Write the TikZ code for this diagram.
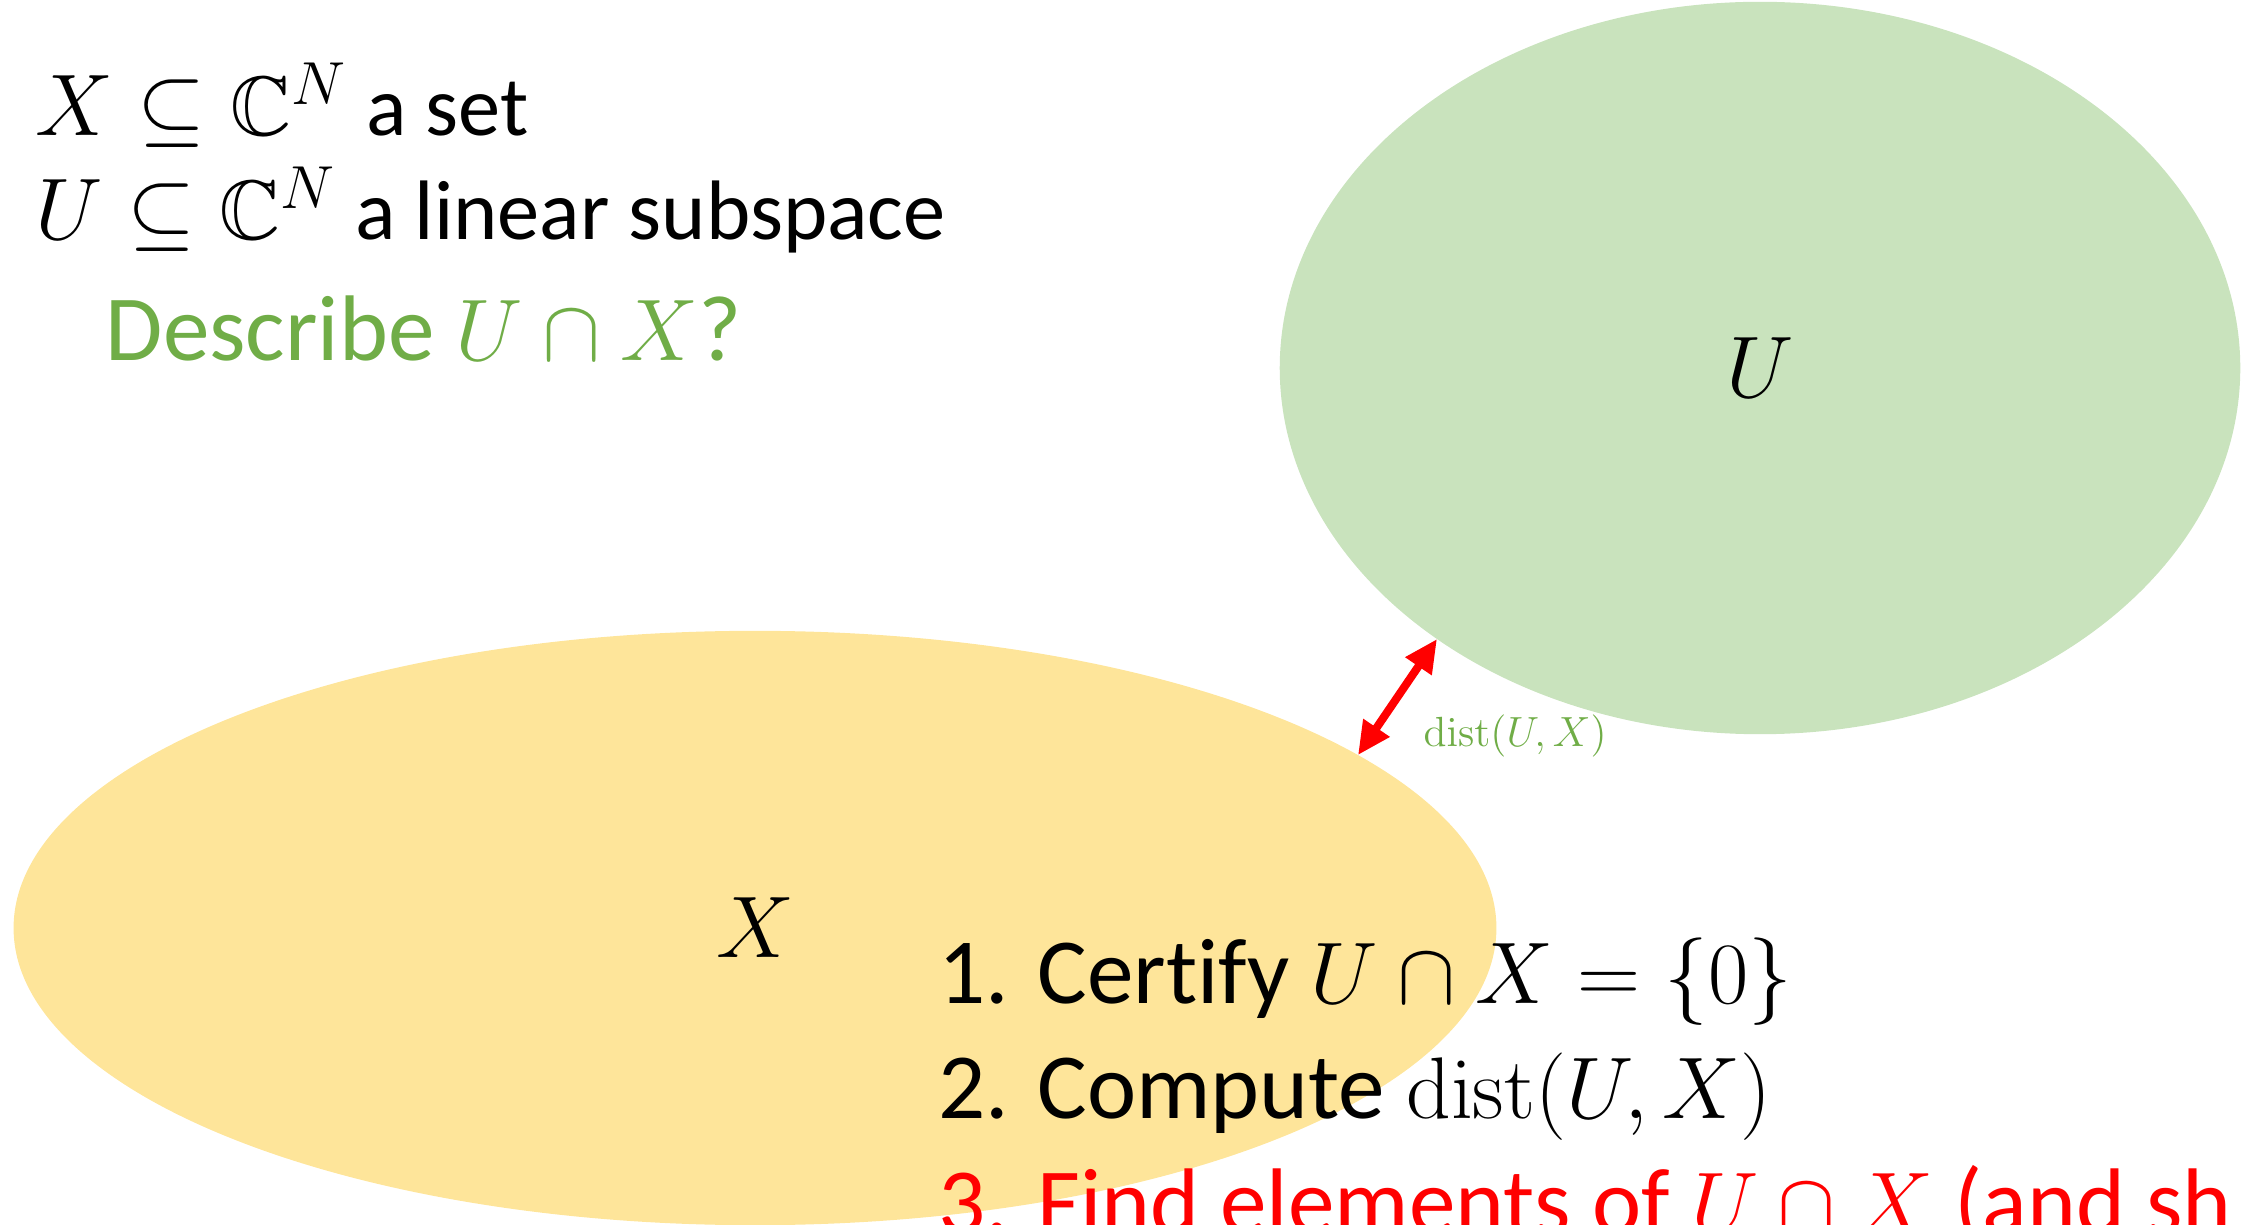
\documentclass[tikz,border=0pt]{standalone}
\usepackage{amsmath,amssymb}
\usepackage[no-math]{fontspec}
\setmainfont{Carlito}[Ligatures={NoCommon}]
\usetikzlibrary{positioning,shapes.geometric,arrows.meta}
\definecolor{ugreen}{HTML}{C9E3BD}
\definecolor{xyellow}{HTML}{FEE59A}
\definecolor{qgreen}{HTML}{70AD47}
\tikzset{setblob/.style={ellipse,inner sep=0pt,outer sep=0pt,font=\fontsize{26}{30}\selectfont}  }
\tikzset{lline/.style={anchor=base west,inner sep=0pt}  }
\tikzset{big/.style={font=\fontsize{26.5}{32}\selectfont}  }
\tikzset{>={Triangle[length=9.4pt,width=8.5pt]}}

\begin{document}
\begin{tikzpicture}[x=0.01cm,y=-0.01cm]
    \useasboundingbox (0,0) rectangle (2242,1225);
    \clip (0,0) rectangle (2242,1225);

    % the two sets
    \node[setblob,fill=ugreen,minimum width=9.6cm,minimum height=7.32cm] (U) at (1760,368) {$U$};
    \node[setblob,fill=xyellow,minimum width=14.82cm,minimum height=5.94cm] (X) at (755,928) {$X$};

    \draw[<->,red,line width=2.3pt] (X.16) -- (U.220);
    \node[lline,font=\fontsize{13}{15}\selectfont,text=qgreen] (dist) at (1423,747) {$\mathrm{dist}(U,X)$};

    % setting
    \node[lline,font=\fontsize{24}{29}\selectfont] (xdef) at (35,136) {$X\subseteq\mathbb{C}^N$ a set};
    \node[lline,font=\fontsize{24}{29}\selectfont] (udef) at (35,240) {$U\subseteq\mathbb{C}^N$ a linear subspace};
    \node[lline,big,text=qgreen] (ask) at (105,361) {Describe $U\cap X$?};

    % tasks
    \node[lline,big] (t1) at (938,1003) {1. Certify $U\cap X=\{0\}$};
    \node[lline,big] (t2) at (938,1118) {2. Compute $\mathrm{dist}(U,X)$};
    \node[lline,big,text=red] (t3) at (938,1233) {3. Find elements of $U\cap X$ (and sh};

\end{tikzpicture}
\end{document}
